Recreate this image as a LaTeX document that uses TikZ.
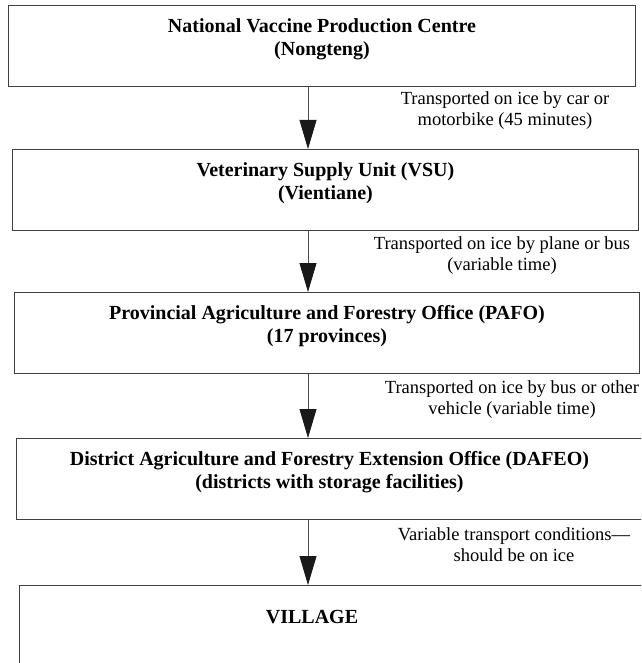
\documentclass[tikz,border=0pt]{standalone}
\usepackage{fontspec}
\setmainfont{Liberation Serif}
\usetikzlibrary{arrows.meta,positioning}
\tikzset{
  stagebox/.style={draw=black!75, line width=0.9pt, anchor=north west, inner sep=0pt,
    minimum height=81pt, align=center, text depth=18pt,
    font=\fontsize{20}{23}\selectfont\bfseries},
  stagetext/.style={inner sep=0pt, font=\fontsize{20}{23}\selectfont\bfseries},
  flowarrow/.style={draw=black!70, line width=0.8pt, -{Triangle[width=17pt,length=29pt,color=black!90]}},
  steplabel/.style={align=center, inner sep=0pt, font=\fontsize{18.5}{21}\selectfont}
}

\begin{document}
\begin{tikzpicture}[x=1pt,y=-1pt]
	%%%%% START %%%%%
	\clip (0,0) rectangle (641,663);
	
	\node[stagebox, minimum width=627pt] (nvpc) at (8,5)
		{National Vaccine Production Centre\\(Nongteng)};
	\node[stagebox, minimum width=626pt] (vsu) at (12,149)
		{Veterinary Supply Unit (VSU)\\(Vientiane)};
	\node[stagebox, minimum width=625pt] (pafo) at (14,292)
		{Provincial Agriculture and Forestry Office (PAFO)\\(17 provinces)};
	\node[stagebox, minimum width=626pt] (dafeo) at (16,438)
		{District Agriculture and Forestry Extension Office (DAFEO)\\(districts with storage facilities)};
	\node[stagebox, minimum width=640pt, minimum height=200pt, text depth=0pt] (village) at (19,585) {};
	\node[stagetext] (villagetext) at (312,617) {VILLAGE};
	
	% arrows all run down the same column
	\coordinate (col) at (308,0);
	\draw[flowarrow] (nvpc.south -| col) -- (vsu.north -| col);
	\draw[flowarrow] (vsu.south -| col) -- (pafo.north -| col);
	\draw[flowarrow] (pafo.south -| col) -- (dafeo.north -| col);
	\draw[flowarrow] (dafeo.south -| col) -- (village.north -| col);
	
	\node[steplabel] (carlabel) at (505,111)
		{Transported on ice by car or\\motorbike (45 minutes)};
	\node[steplabel] (planelabel) at (502,256)
		{Transported on ice by plane or bus\\(variable time)};
	\node[steplabel] (buslabel) at (512,400)
		{Transported on ice by bus or other\\vehicle (variable time)};
	\node[steplabel] (icelabel) at (514,545)
		{Variable transport conditions---\\should be on ice};
	
	%%%%% END %%%%%
\end{tikzpicture}
\end{document}
